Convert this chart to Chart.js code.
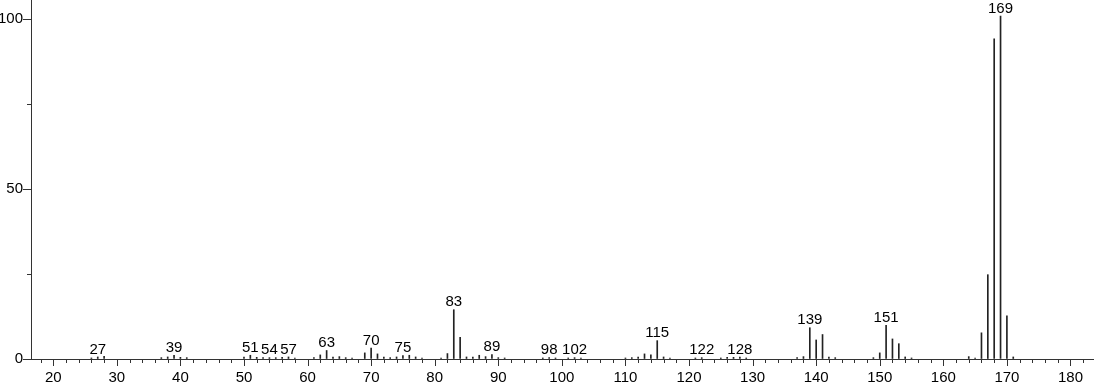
<!DOCTYPE html>
<html>
<head>
<meta charset="utf-8">
<script src="https://cdn.jsdelivr.net/npm/chart.js@4.4.1/dist/chart.umd.min.js"></script>
<style>
html,body{margin:0;padding:0;background:#fff;}
#wrap{width:1094px;height:384px;position:relative;}
</style>
</head>
<body>
<div id="wrap"><canvas id="c"></canvas></div>
<script>
// m/z values
const masses = [26,27,28,37,38,39,40,41,50,51,52,53,54,55,56,57,58,61,62,63,64,65,66,67,69,70,71,72,73,74,75,76,77,78,81,82,83,84,85,86,87,88,89,90,91,97,98,99,101,102,103,110,111,112,113,114,115,116,117,121,122,125,126,127,128,129,137,138,139,140,141,142,143,149,150,151,152,153,154,155,164,165,166,167,168,169,170,171];
// relative intensities
const intensities = [0.3,0.6,0.8,0.4,0.6,1.1,0.5,0.4,0.6,1.1,0.5,0.4,0.4,0.4,0.5,0.6,0.3,0.4,1.2,2.5,0.6,0.7,0.4,0.3,1.8,3.2,1.5,0.6,0.4,0.6,1.0,1.1,0.6,0.3,0.3,1.6,14.5,6.4,0.6,0.6,1.1,0.7,1.3,0.4,0.3,0.3,0.4,0.3,0.3,0.4,0.3,0.3,0.4,0.6,1.5,1.2,5.4,0.6,0.3,0.3,0.4,0.3,0.5,0.5,0.6,0.3,0.4,0.7,9.2,5.6,7.2,0.6,0.4,0.4,1.8,9.9,5.9,4.5,0.6,0.3,0.7,0.3,7.7,24.8,94.2,100.9,12.7,0.6];
// peaks carrying a text label
const labeledPeaks = [27,39,51,54,57,63,70,75,83,89,98,102,115,122,128,139,151,169];
// tick labels
const xTickLabels = [20,30,40,50,60,70,80,90,100,110,120,130,140,150,160,170,180];
const yTickLabels = [0,50,100];

const FONT = "'Liberation Sans',Arial,sans-serif";
const FSIZE = 15;
const AXIS = '#333';

const points = masses.map((m,i)=>({x:m,y:intensities[i]}));

const decor = {
  id:'decor',
  afterDraw(chart){
    const ctx = chart.ctx, xs = chart.scales.x, ys = chart.scales.y;
    ctx.save();
    ctx.strokeStyle = AXIS; ctx.lineWidth = 1;
    ctx.beginPath();
    xs.ticks.forEach(t=>{
      const px = Math.round(xs.getPixelForValue(t.value))+0.5;
      const len = xTickLabels.includes(t.value) ? 7 : 4;
      ctx.moveTo(px, ys.bottom); ctx.lineTo(px, ys.bottom+len);
    });
    ys.ticks.forEach(t=>{
      const py = Math.round(ys.getPixelForValue(t.value))+0.5;
      const len = yTickLabels.includes(t.value) ? 8 : 4;
      ctx.moveTo(xs.left, py); ctx.lineTo(xs.left-len, py);
    });
    ctx.stroke();
    // peak labels
    ctx.fillStyle = '#000';
    ctx.font = FSIZE + 'px ' + FONT;
    ctx.textAlign = 'center';
    ctx.textBaseline = 'bottom';
    labeledPeaks.forEach(m=>{
      const i = masses.indexOf(m);
      const px = xs.getPixelForValue(m);
      const py = ys.getPixelForValue(intensities[i]);
      ctx.fillText(String(m), px, py);
    });
    ctx.restore();
  }
};

new Chart(document.getElementById('c'), {
  type:'bar',
  data:{datasets:[{data:points, backgroundColor:'#222', borderWidth:0, barThickness:1}]},
  options:{
    responsive:true, maintainAspectRatio:false, animation:false,
    devicePixelRatio:1,
    layout:{padding:0},
    plugins:{legend:{display:false}, tooltip:{enabled:false}},
    scales:{
      x:{
        type:'linear', min:16.5, max:183.7, offset:false,
        afterFit(s){ s.height = 25; s.paddingLeft = 0; s.paddingRight = 0; },
        grid:{display:true, offset:false, drawOnChartArea:false, drawTicks:true, tickLength:7, color:'rgba(0,0,0,0)', tickColor:'rgba(0,0,0,0)'},
        border:{display:true, color:AXIS, width:1},
        ticks:{stepSize:2, includeBounds:false, autoSkip:false, maxRotation:0, padding:3, color:'#000',
          font:{family:FONT, size:FSIZE},
          callback:(v)=> xTickLabels.includes(v) ? String(v) : ''}
      },
      y:{
        type:'linear', min:0, max:105.6,
        afterFit(s){ s.width = 31; s.paddingTop = 0; s.paddingBottom = 0; },
        grid:{display:true, drawOnChartArea:false, drawTicks:true, tickLength:8, color:'rgba(0,0,0,0)', tickColor:'rgba(0,0,0,0)'},
        border:{display:true, color:AXIS, width:1},
        ticks:{stepSize:25, includeBounds:false, autoSkip:false, padding:0, color:'#000',
          font:{family:FONT, size:FSIZE},
          callback:(v)=> yTickLabels.includes(v) ? String(v) : ''}
      }
    }
  },
  plugins:[decor]
});
</script>
</body>
</html>
